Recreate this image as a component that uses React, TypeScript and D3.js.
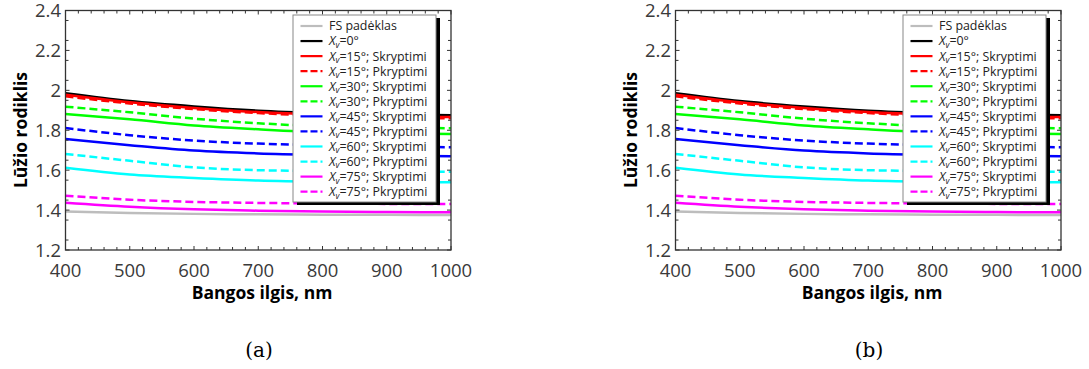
import React from "react";
import * as d3 from "d3";

const wavelengths = [400, 500, 600, 700, 800, 900, 1000];

const fsSubstrate = [1.393, 1.386, 1.381, 1.379, 1.377, 1.376, 1.375];
const xv0 = [1.985, 1.946, 1.919, 1.898, 1.886, 1.879, 1.875];
const xv15S = [1.978, 1.94, 1.912, 1.891, 1.878, 1.87, 1.866];
const xv15P = [1.97, 1.934, 1.906, 1.886, 1.873, 1.864, 1.86];
const xv30S = [1.881, 1.855, 1.824, 1.805, 1.79, 1.785, 1.781];
const xv30P = [1.918, 1.89, 1.858, 1.835, 1.82, 1.814, 1.81];
const xv45S = [1.756, 1.725, 1.698, 1.684, 1.677, 1.673, 1.67];
const xv45P = [1.811, 1.775, 1.748, 1.733, 1.725, 1.719, 1.715];
const xv60S = [1.612, 1.578, 1.561, 1.548, 1.542, 1.54, 1.539];
const xv60P = [1.681, 1.647, 1.614, 1.6, 1.596, 1.593, 1.592];
const xv75S = [1.437, 1.417, 1.404, 1.397, 1.393, 1.39, 1.389];
const xv75P = [1.472, 1.452, 1.441, 1.436, 1.433, 1.431, 1.43];

const xTicks = [400, 500, 600, 700, 800, 900, 1000];
const yTicks = [1.2, 1.4, 1.6, 1.8, 2.0, 2.2, 2.4];
const yTickLabels = ["1.2", "1.4", "1.6", "1.8", "2", "2.2", "2.4"];

type Series = { key: string; angle: string | null; dir: string | null; label: string; values: number[]; color: string; dashed: boolean };

const series: Series[] = [
  { key: "fs", angle: null, dir: null, label: "FS padėklas", values: fsSubstrate, color: "#bdbdbd", dashed: false },
  { key: "0", angle: "0°", dir: null, label: "", values: xv0, color: "#000000", dashed: false },
  { key: "15S", angle: "15°", dir: "Skryptimi", label: "", values: xv15S, color: "#ff0000", dashed: false },
  { key: "15P", angle: "15°", dir: "Pkryptimi", label: "", values: xv15P, color: "#ff0000", dashed: true },
  { key: "30S", angle: "30°", dir: "Skryptimi", label: "", values: xv30S, color: "#00ff00", dashed: false },
  { key: "30P", angle: "30°", dir: "Pkryptimi", label: "", values: xv30P, color: "#00ff00", dashed: true },
  { key: "45S", angle: "45°", dir: "Skryptimi", label: "", values: xv45S, color: "#0000ff", dashed: false },
  { key: "45P", angle: "45°", dir: "Pkryptimi", label: "", values: xv45P, color: "#0000ff", dashed: true },
  { key: "60S", angle: "60°", dir: "Skryptimi", label: "", values: xv60S, color: "#00ffff", dashed: false },
  { key: "60P", angle: "60°", dir: "Pkryptimi", label: "", values: xv60P, color: "#00ffff", dashed: true },
  { key: "75S", angle: "75°", dir: "Skryptimi", label: "", values: xv75S, color: "#ff00ff", dashed: false },
  { key: "75P", angle: "75°", dir: "Pkryptimi", label: "", values: xv75P, color: "#ff00ff", dashed: true },
];

const drawOrder = ["fs", "75S", "75P", "60S", "60P", "45S", "45P", "30S", "30P", "0", "15S", "15P"];

const L = 65.5, R = 451, T = 10.5, B = 250;
const FONT = "'Open Sans', 'Noto Sans', sans-serif";

function Panel({ dx, caption, id }: { dx: number; caption: string; id: string }) {
  const x = d3.scaleLinear().domain([400, 1000]).range([L, R]);
  const y = d3.scaleLinear().domain([1.2, 2.4]).range([B, T]);
  const line = d3
    .line<number>()
    .x((_, i) => x(wavelengths[i]))
    .y((v) => y(v))
    .curve(d3.curveMonotoneX);
  const minorX = d3.range(420, 1000, 20).filter((v) => v % 100 !== 0);
  const minorY = d3.range(1.25, 2.4, 0.1);
  const lgX = 293, lgY = 15, lgW = 143, lgH = 187;
  const rowY0 = 26, rowStep = 15.06;
  return (
    <g transform={`translate(${dx},0)`}>
      <defs>
        <clipPath id={`clip-${id}`}>
          <rect x={L} y={T} width={R - L} height={B - T} />
        </clipPath>
      </defs>
      <rect x={L} y={T} width={R - L} height={B - T} fill="#fff" />
      <g clipPath={`url(#clip-${id})`}>
        {drawOrder.map((k) => {
          const s = series.find((q) => q.key === k)!;
          return (
            <path
              key={k}
              d={line(s.values) || ""}
              fill="none"
              stroke={s.color}
              strokeWidth={2.5}
              strokeDasharray={s.dashed ? "8,4" : undefined}
            />
          );
        })}
      </g>
      <g stroke="#333" strokeWidth={1}>
        {xTicks.map((t) => (
          <g key={`xt${t}`}>
            <line x1={x(t)} x2={x(t)} y1={B} y2={B - 4} />
            <line x1={x(t)} x2={x(t)} y1={T} y2={T + 4} />
          </g>
        ))}
        {minorX.map((t) => (
          <g key={`xm${t}`}>
            <line x1={x(t)} x2={x(t)} y1={B} y2={B - 3} />
            <line x1={x(t)} x2={x(t)} y1={T} y2={T + 3} />
          </g>
        ))}
        {yTicks.map((t) => (
          <g key={`yt${t}`}>
            <line x1={L} x2={L + 4} y1={y(t)} y2={y(t)} />
            <line x1={R} x2={R - 4} y1={y(t)} y2={y(t)} />
          </g>
        ))}
        {minorY.map((t) => (
          <g key={`ym${t}`}>
            <line x1={L} x2={L + 3} y1={y(t)} y2={y(t)} />
            <line x1={R} x2={R - 3} y1={y(t)} y2={y(t)} />
          </g>
        ))}
      </g>
      <rect x={L} y={T} width={R - L} height={B - T} fill="none" stroke="#333" strokeWidth={1.3} />
      {xTicks.map((t) => (
        <text key={`xl${t}`} x={x(t)} y={277} textAnchor="middle" fontFamily={FONT} fontSize={18.5} fill="#3a3a3a">
          {t}
        </text>
      ))}
      {yTicks.map((t, i) => (
        <text key={`yl${t}`} x={61} y={y(t) + 6.5} textAnchor="end" fontFamily={FONT} fontSize={18.5} fill="#3a3a3a">
          {yTickLabels[i]}
        </text>
      ))}
      <text x={262} y={299} textAnchor="middle" fontFamily={FONT} fontWeight="bold" fontSize={17.5} fill="#000">
        Bangos ilgis, nm
      </text>
      <text
        transform={`translate(27,130) rotate(-90)`}
        textAnchor="middle"
        fontFamily={FONT}
        fontWeight="bold"
        fontSize={17.5}
        fill="#000"
      >
        Lūžio rodiklis
      </text>
      <rect x={lgX + 4} y={lgY + 3} width={lgW} height={lgH} fill="#000" />
      <rect x={lgX} y={lgY} width={lgW} height={lgH} fill="#fff" stroke="#888" strokeWidth={1} />
      {series.map((s, i) => {
        const yy = rowY0 + i * rowStep;
        return (
          <g key={`lg${s.key}`}>
            <line
              x1={300.5}
              x2={322.5}
              y1={yy}
              y2={yy}
              stroke={s.color}
              strokeWidth={2.2}
              strokeDasharray={s.dashed ? "7,3" : undefined}
            />
            <text x={329} y={yy + 4.4} fontFamily={FONT} fontSize={12.4} fill="#222">
              {s.angle === null ? (
                s.label
              ) : (
                <>
                  <tspan fontStyle="italic">X</tspan>
                  <tspan fontStyle="italic" fontSize={8.5} dy={2.5}>
                    v
                  </tspan>
                  <tspan dy={-2.5}>{`=${s.angle}${s.dir ? "; " + s.dir : ""}`}</tspan>
                </>
              )}
            </text>
          </g>
        );
      })}
      <text x={259} y={357} textAnchor="middle" fontFamily="'DejaVu Serif', 'Liberation Serif', serif" fontSize={20} fill="#000">
        {caption}
      </text>
    </g>
  );
}

export default function App() {
  return (
    <div style={{ position: "fixed", left: 0, top: 0 }}>
      <svg width={1089} height={369} style={{ display: "block", background: "#fff" }}>
        <Panel dx={0} caption="(a)" id="a" />
        <Panel dx={610} caption="(b)" id="b" />
      </svg>
    </div>
  );
}
